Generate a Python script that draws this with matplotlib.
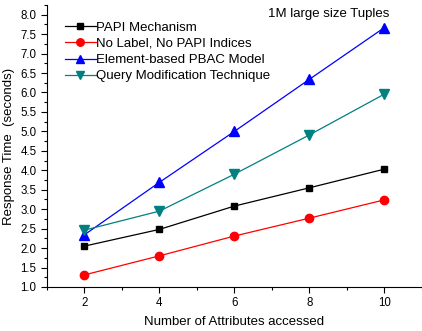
import matplotlib
matplotlib.use('Agg')
import matplotlib.pyplot as plt
from matplotlib.ticker import MultipleLocator

plt.rcParams['font.family'] = ['Liberation Sans', 'DejaVu Sans']

attrs = [2, 4, 6, 8, 10]
papi = [2.05, 2.48, 3.08, 3.55, 4.03]
no_label = [1.31, 1.80, 2.31, 2.77, 3.24]
element_pbac = [2.34, 3.69, 5.00, 6.34, 7.67]
query_mod = [2.46, 2.95, 3.90, 4.91, 5.96]

fig = plt.figure(figsize=(4.22, 3.31), dpi=100)
ax = fig.add_axes([0.111, 0.133, 0.889, 0.852])

ax.plot(attrs, papi, color='black', lw=0.9, marker='s', ms=4.8, label='PAPI Mechanism')
ax.plot(attrs, no_label, color='red', lw=0.9, marker='o', ms=6, label='No Label, No PAPI Indices')
ax.plot(attrs, element_pbac, color='blue', lw=0.9, marker='^', ms=6.5, label='Element-based PBAC Model')
ax.plot(attrs, query_mod, color='#008080', lw=0.9, marker='v', ms=6.5, label='Query Modification Technique')

ax.set_xlim(1, 11)
ax.set_ylim(1.0, 8.25)
ax.xaxis.set_major_locator(MultipleLocator(2))
ax.xaxis.set_minor_locator(MultipleLocator(1))
ax.yaxis.set_major_locator(MultipleLocator(0.5))
ax.yaxis.set_minor_locator(MultipleLocator(0.25))
ax.yaxis.set_major_formatter(plt.FormatStrFormatter('%.1f'))

for s in ['top', 'right']:
    ax.spines[s].set_visible(False)
ax.tick_params(which='major', direction='out', length=4, width=0.8, labelsize=8.3)
ax.tick_params(which='minor', direction='out', length=2, width=0.8)

ax.set_xlabel('Number of Attributes accessed', fontsize=9.5, labelpad=5)
ax.set_ylabel('Response Time  (seconds)', fontsize=9.5, labelpad=4)

ax.text(0.75, 0.99, '1M large size Tuples', transform=ax.transAxes, fontsize=9.5,
        ha='center', va='top')

ax.legend(loc='upper left', bbox_to_anchor=(0.035, 0.96), frameon=False, fontsize=9.5,
          handlelength=2.3, handletextpad=0.0, labelspacing=0.3, borderaxespad=0,
          markerscale=0.9)

fig.savefig('out.png', dpi=100)
